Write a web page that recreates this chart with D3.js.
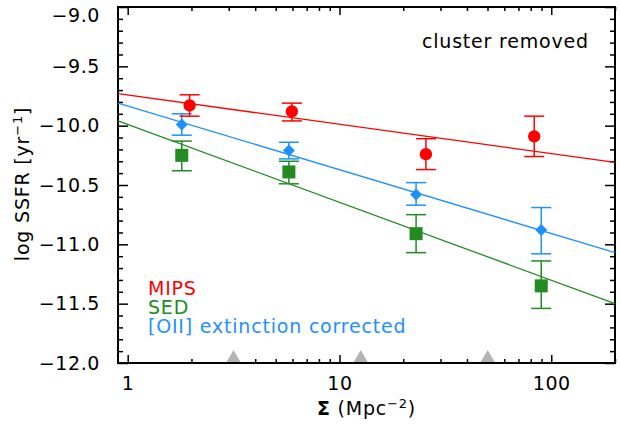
<!DOCTYPE html>
<html>
<head>
  <meta charset="UTF-8">
  <title>SSFR vs density</title>
  <style>
    body { margin: 0; background: #fff; }
    svg { display: block; font-family: "DejaVu Sans", sans-serif; }
  </style>
</head>
<body>
  <svg id="chart" width="620" height="425"></svg>

  <script src="https://cdn.jsdelivr.net/npm/d3@7"></script>
  <script>
    // values
    var sigmaMips = [1.96, 5.96, 25.6, 83.1];
    var ssfrMips = [-9.83, -9.88, -10.24, -10.09];
    var mipsLo = [-9.92, -9.96, -10.37, -10.26];
    var mipsHi = [-9.74, -9.81, -10.11, -9.92];

    var sigmaSed = [1.80, 5.77, 23.0, 89.7];
    var ssfrSed = [-10.25, -10.39, -10.91, -11.35];
    var sedLo = [-10.38, -10.49, -11.07, -11.54];
    var sedHi = [-10.13, -10.30, -10.75, -11.14];

    var sigmaOii = [1.80, 5.77, 23.0, 89.7];
    var ssfrOii = [-9.99, -10.21, -10.58, -10.88];
    var oiiLo = [-10.08, -10.28, -10.67, -11.08];
    var oiiHi = [-9.90, -10.14, -10.48, -10.69];

    // fit lines, value at left and right edge of the plot
    var fitSigma = [0.9, 200];
    var fitMips = [-9.73, -10.31];
    var fitOii = [-9.81, -11.07];
    var fitSed = [-9.96, -11.50];

    // bin edges (grey triangles)
    var binEdges = [3.16, 12.6, 50.1];

    var xMajor = [1, 10, 100];
    var yMajor = [-12.0, -11.5, -11.0, -10.5, -10.0, -9.5, -9.0];

    var svg = d3.select("#chart"),
      margin = {top: 7, right: 5, bottom: 62, left: 118},
      width = +svg.attr("width") - margin.left - margin.right,
      height = +svg.attr("height") - margin.top - margin.bottom,
      g = svg.append("g").attr("transform", "translate(" + margin.left + "," + margin.top + ")");

    var x = d3.scaleLog().domain([0.9, 200]).range([0, width]);
    var y = d3.scaleLinear().domain([-12, -9]).range([height, 0]);

    var red = "#ff0000", green = "#228b22", blue = "#1e90ff";

    // minor ticks
    var xMinor = [];
    [1, 10, 100].forEach(function(d) {
      for (var k = 2; k <= 9; k++) if (d * k <= 200) xMinor.push(d * k);
    });
    var yMinor = d3.range(-120, -89).map(function(d) { return d / 10; })
      .filter(function(d) { return yMajor.indexOf(d) < 0; });

    var fmt = d3.format(".1f");

    // bottom / top axes
    g.append("g")
      .attr("class", "axis")
      .attr("transform", "translate(0," + height + ")")
      .call(d3.axisBottom(x).tickValues(xMajor).tickFormat(d3.format("d")).tickSizeInner(-8).tickSizeOuter(0).tickPadding(14));
    g.append("g")
      .attr("class", "axis minor")
      .attr("transform", "translate(0," + height + ")")
      .call(d3.axisBottom(x).tickValues(xMinor).tickFormat("").tickSizeInner(-4).tickSizeOuter(0));
    g.append("g")
      .attr("class", "axis")
      .call(d3.axisTop(x).tickValues(xMajor).tickFormat("").tickSizeInner(-8).tickSizeOuter(0));
    g.append("g")
      .attr("class", "axis minor")
      .call(d3.axisTop(x).tickValues(xMinor).tickFormat("").tickSizeInner(-4).tickSizeOuter(0));

    // left / right axes
    var yAxis = g.append("g")
      .attr("class", "axis")
      .call(d3.axisLeft(y).tickValues(yMajor).tickFormat(fmt).tickSizeInner(-10).tickSizeOuter(0).tickPadding(18));
    g.append("g")
      .attr("class", "axis minor")
      .call(d3.axisLeft(y).tickValues(yMinor).tickFormat("").tickSizeInner(-5).tickSizeOuter(0));
    g.append("g")
      .attr("class", "axis")
      .attr("transform", "translate(" + width + ",0)")
      .call(d3.axisRight(y).tickValues(yMajor).tickFormat("").tickSizeInner(-10).tickSizeOuter(0));
    g.append("g")
      .attr("class", "axis minor")
      .attr("transform", "translate(" + width + ",0)")
      .call(d3.axisRight(y).tickValues(yMinor).tickFormat("").tickSizeInner(-5).tickSizeOuter(0));

    g.selectAll(".axis .domain").remove();
    g.selectAll(".axis line").attr("stroke", "#000").attr("stroke-width", 1.5);
    g.selectAll(".axis text")
      .attr("fill", "#000")
      .attr("letter-spacing", 0.6)
      .style("font-size", "19px")
      .style("font-family", "'DejaVu Sans', sans-serif");

    // top label sits a little lower, inside the page
    yAxis.selectAll(".tick")
      .filter(function(d) { return d == -9; })
      .select("text")
      .attr("dy", "0.74em");

    // frame
    g.append("rect")
      .attr("width", width)
      .attr("height", height)
      .attr("fill", "none")
      .attr("stroke", "#000")
      .attr("stroke-width", 2);

    // grey triangles on the x axis
    g.selectAll(".bin")
      .data(binEdges)
      .enter().append("path")
        .attr("class", "bin")
        .attr("fill", "#b4b4b4")
        .attr("d", function(d) {
          var cx = x(d);
          return "M" + (cx - 7) + "," + (height - 1) + "L" + cx + "," + (height - 13) + "L" + (cx + 7) + "," + (height - 1) + "Z";
        });

    var series = [
      {name: "sed", color: green, sx: sigmaSed, v: ssfrSed, lo: sedLo, hi: sedHi, fit: fitSed, shape: "square"},
      {name: "oii", color: blue, sx: sigmaOii, v: ssfrOii, lo: oiiLo, hi: oiiHi, fit: fitOii, shape: "diamond"},
      {name: "mips", color: red, sx: sigmaMips, v: ssfrMips, lo: mipsLo, hi: mipsHi, fit: fitMips, shape: "circle"}
    ];

    var line = d3.line()
      .x(function(d) { return x(d[0]); })
      .y(function(d) { return y(d[1]); });

    series.forEach(function(s) {
      g.append("path")
        .attr("d", line(d3.zip(fitSigma, s.fit)))
        .attr("fill", "none")
        .attr("stroke", s.color)
        .attr("stroke-width", 1.3);
    });

    series.forEach(function(s) {
      var pts = s.sx.map(function(d, i) { return {x: d, v: s.v[i], lo: s.lo[i], hi: s.hi[i]}; });
      var grp = g.append("g").attr("class", "serie " + s.name);

      var eb = grp.selectAll(".err")
        .data(pts)
        .enter().append("g")
          .attr("class", "err")
          .attr("stroke", s.color)
          .attr("stroke-width", 1.5);
      eb.append("line")
        .attr("x1", function(d) { return x(d.x); })
        .attr("x2", function(d) { return x(d.x); })
        .attr("y1", function(d) { return y(d.lo); })
        .attr("y2", function(d) { return y(d.hi); });
      eb.append("line")
        .attr("x1", function(d) { return x(d.x) - 10; })
        .attr("x2", function(d) { return x(d.x) + 10; })
        .attr("y1", function(d) { return y(d.lo); })
        .attr("y2", function(d) { return y(d.lo); });
      eb.append("line")
        .attr("x1", function(d) { return x(d.x) - 10; })
        .attr("x2", function(d) { return x(d.x) + 10; })
        .attr("y1", function(d) { return y(d.hi); })
        .attr("y2", function(d) { return y(d.hi); });

      // diamond = square turned by 45 degrees
      var sym = s.shape == "circle" ? d3.symbolCircle : d3.symbolSquare;
      var size = s.shape == "circle" ? 120 : (s.shape == "square" ? 169 : 72);
      var rot = s.shape == "diamond" ? " rotate(45)" : "";
      grp.selectAll(".pt")
        .data(pts)
        .enter().append("path")
          .attr("class", "pt")
          .attr("fill", s.color)
          .attr("transform", function(d) { return "translate(" + x(d.x) + "," + y(d.v) + ")" + rot; })
          .attr("d", d3.symbol().type(sym).size(size));
    });

    // annotation and legend
    var txt = svg.append("g").style("font-size", "19px").attr("letter-spacing", 0.8);

    txt.append("text")
      .attr("x", 422)
      .attr("y", 48)
      .attr("letter-spacing", 0.8)
      .text("cluster  removed");

    txt.append("text").attr("x", 148).attr("y", 295).attr("fill", red).text("MIPS");
    txt.append("text").attr("x", 148).attr("y", 314).attr("fill", green).text("SED");
    txt.append("text").attr("x", 148).attr("y", 333).attr("fill", blue).text("[OII]  extinction  corrected");

    // axis titles
    var xt = txt.append("text")
      .attr("x", margin.left + width / 2)
      .attr("y", 415)
      .attr("text-anchor", "middle");
    xt.append("tspan").attr("font-weight", "bold").text("Σ");
    xt.append("tspan").text("  (Mpc");
    xt.append("tspan").attr("dy", -7).style("font-size", "13px").text("−2");
    xt.append("tspan").attr("dy", 7).text(")");

    var yt = txt.append("text")
      .attr("transform", "translate(29," + 184 + ") rotate(-90)")
      .attr("text-anchor", "middle");
    yt.append("tspan").text("log  SSFR  [yr");
    yt.append("tspan").attr("dy", -7).style("font-size", "13px").text("−1");
    yt.append("tspan").attr("dy", 7).text("]");
  </script>
</body>
</html>
